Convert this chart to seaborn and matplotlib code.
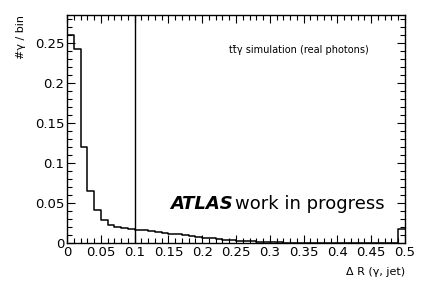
import numpy as np
import pandas as pd
import matplotlib
matplotlib.use("Agg")
import matplotlib.pyplot as plt
import seaborn as sns
from matplotlib.ticker import MultipleLocator

bin_edges = np.linspace(0, 0.5, 51)
counts = [0.260, 0.243, 0.120, 0.065, 0.041, 0.029, 0.023, 0.020, 0.019, 0.018,
          0.0167, 0.0158, 0.0148, 0.0138, 0.0128, 0.0118, 0.0108, 0.0098, 0.0088, 0.0078,
          0.0068, 0.0058, 0.0050, 0.0043, 0.0036, 0.0030, 0.0024, 0.0019, 0.0015, 0.0012,
          0.0009, 0.0007, 0.0005, 0.0004, 0.0003, 0.0003, 0.0002, 0.0002, 0.0002, 0.0001,
          0.0001, 0.0001, 0.0001, 0.0001, 0.0001, 0.0001, 0.0001, 0.0001, 0.0001, 0.018]
cut_value = 0.1

sns.set_style("ticks", {"text.color": "black", "axes.labelcolor": "black",
                        "xtick.color": "black", "ytick.color": "black"})
plt.rcParams['font.family'] = ['DejaVu Sans']

fig = plt.figure(figsize=(4.27, 2.90), dpi=100)
ax = fig.add_axes([67/427, 47/290, (405-67)/427, (243-15)/290])

centers = 0.5 * (bin_edges[:-1] + bin_edges[1:])
df = pd.DataFrame({"dr": centers, "w": counts})
sns.histplot(data=df, x="dr", weights="w", binwidth=0.01, binrange=(0, 0.5),
             element="step", fill=False, color="black", linewidth=1.1, ax=ax)
ax.axvline(cut_value, color="black", linewidth=1.0)

ax.set_xlim(0, 0.5)
ax.set_ylim(0, 0.285)
ax.xaxis.set_minor_locator(MultipleLocator(0.01))
ax.yaxis.set_minor_locator(MultipleLocator(0.01))
ax.set_xticks(np.arange(0, 0.51, 0.05))
ax.set_xticklabels(["0", "0.05", "0.1", "0.15", "0.2", "0.25", "0.3", "0.35", "0.4", "0.45", "0.5"])
ax.set_yticks(np.arange(0, 0.26, 0.05))
ax.set_yticklabels(["0", "0.05", "0.1", "0.15", "0.2", "0.25"])
ax.tick_params(which="both", direction="in", top=True, right=True, labelsize=9.5,
               width=0.8, pad=2, colors="black", labelcolor="black")
ax.tick_params(which="major", length=6)
ax.tick_params(which="minor", length=3.5)
for s in ax.spines.values():
    s.set_linewidth(1.0)
    s.set_color("black")

ax.set_xlabel("Δ R (γ, jet)", fontsize=8, loc="right", labelpad=6, color="black")
ax.set_ylabel("#γ / bin", fontsize=8, loc="top", labelpad=6, color="black")

ax.text(0.686, 0.846, "tt\u0304γ simulation (real photons)", transform=ax.transAxes,
        fontsize=7, ha="center", va="center", color="black")
ax.text(0.305, 0.17, "ATLAS", transform=ax.transAxes, fontsize=13,
        fontweight="bold", style="italic", ha="left", va="center", color="black")
ax.text(0.497, 0.17, "work in progress", transform=ax.transAxes, fontsize=13,
        ha="left", va="center", color="black")

fig.savefig("out.png", dpi=100)
